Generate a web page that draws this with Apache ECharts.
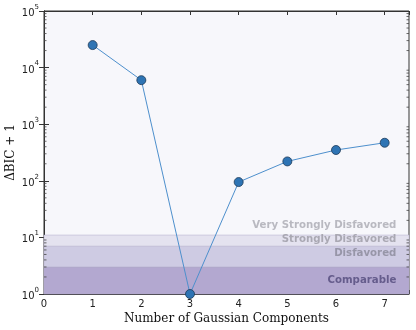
<!DOCTYPE html>
<html>
<head>
<meta charset="utf-8">
<script src="https://cdn.jsdelivr.net/npm/echarts@6/dist/echarts.min.js"></script>
<style>
  html, body { margin: 0; padding: 0; background: #fff; }
  #chart { width: 416px; height: 330px; }
</style>
</head>
<body>
<div id="chart"></div>
<script>
// data
const components = [1, 2, 3, 4, 5, 6, 7];
const deltaBic = [25000, 6000, 1, 95, 220, 350, 470];

// evidence bands (ΔBIC + 1)
const bandEdges = [1, 3, 7, 11];
const bandColors = ['#b3a8d0', '#cecbe3', '#e4e2ef'];
const bandLabels = ['Comparable', 'Disfavored', 'Strongly Disfavored', 'Very Strongly Disfavored'];
const bandLabelY = [1.75, 5.2, 9.3, 16.5];
const bandLabelColors = ['#51497a', '#8a8898', '#9b9aa4', '#a9a9b1'];

const xTicks = [0, 1, 2, 3, 4, 5, 6, 7];
const yExponents = [0, 1, 2, 3, 4, 5];

let minorTicks = [];
yExponents.slice(0, -1).forEach(e => {
    for (let m = 2; m <= 9; m++) minorTicks.push(m * Math.pow(10, e));
});

let chart = echarts.init(document.getElementById('chart'));

let bandAreas = [];
for (let i = 0; i < bandColors.length; i++) {
    bandAreas.push([
        { yAxis: bandEdges[i], itemStyle: { color: bandColors[i], borderColor: '#b0abc8', borderWidth: 0.5 } },
        { yAxis: bandEdges[i + 1] }
    ]);
}

let supLabel = v => {
    let e = Math.round(Math.log10(v));
    return '{b|10}{s|' + e + '}';
};

let option = {
    animation: false,
    grid: {
        left: 44, right: 7, top: 11, bottom: 36,
        outerBoundsMode: 'none', containLabel: false,
        show: true, backgroundColor: '#f7f7fb', borderColor: '#333', borderWidth: 1
    },
    xAxis: [
        {
            type: 'value', min: 0, max: 7.5, interval: 1,
            name: 'Number of Gaussian Components', nameLocation: 'middle', nameGap: 19,
            nameMoveOverlap: false,
            nameTextStyle: { fontFamily: 'DejaVu Serif', fontSize: 12, color: '#111' },
            axisLine: { lineStyle: { color: '#333' } },
            axisTick: { inside: true, length: 4, lineStyle: { color: '#333' } },
            axisLabel: {
                fontFamily: 'DejaVu Sans', fontSize: 10, color: '#222', margin: 5,
                formatter: v => (xTicks.indexOf(v) >= 0 ? String(v) : '')
            },
            splitLine: { show: false }
        },
        {
            type: 'value', min: 0, max: 7.5, interval: 1, position: 'top',
            axisLine: { lineStyle: { color: '#333' } },
            axisTick: { inside: true, length: 4, lineStyle: { color: '#333' } },
            axisLabel: { show: false },
            splitLine: { show: false }
        }
    ],
    yAxis: [
        {
            type: 'log', logBase: 10, min: 1, max: 100000,
            name: 'ΔBIC + 1', nameLocation: 'middle', nameGap: 27,
            nameMoveOverlap: false,
            nameTextStyle: { fontFamily: 'DejaVu Serif', fontSize: 12, color: '#111' },
            axisLine: { show: true, lineStyle: { color: '#333' } },
            axisTick: { inside: true, length: 5, lineStyle: { color: '#333' } },
            axisLabel: {
                margin: 5, formatter: supLabel,
                rich: {
                    b: { fontFamily: 'DejaVu Sans', fontSize: 10, color: '#222', verticalAlign: 'bottom' },
                    s: { fontFamily: 'DejaVu Sans', fontSize: 7, color: '#222', verticalAlign: 'top', padding: [0, 0, 8, 0] }
                }
            },
            splitLine: { show: false }
        },
        {
            type: 'log', logBase: 10, min: 1, max: 100000, position: 'right',
            axisLine: { show: true, lineStyle: { color: '#333' } },
            axisTick: { inside: true, length: 5, lineStyle: { color: '#333' } },
            axisLabel: { show: false },
            splitLine: { show: false }
        }
    ],
    series: [
        {
            type: 'line',
            data: [],
            markArea: { silent: true, data: bandAreas },
            z: 1
        },
        {
            type: 'custom',
            silent: true,
            z: 3,
            data: minorTicks.map(v => [0, v]),
            renderItem: (params, api) => {
                let v = api.value(1);
                let l = api.coord([0, v]);
                let r = api.coord([7.5, v]);
                let st = { stroke: '#444', lineWidth: 0.8 };
                return {
                    type: 'group',
                    children: [
                        { type: 'line', shape: { x1: l[0], y1: l[1], x2: l[0] + 2.5, y2: l[1] }, style: st },
                        { type: 'line', shape: { x1: r[0], y1: r[1], x2: r[0] - 2.5, y2: r[1] }, style: st }
                    ]
                };
            }
        },
        {
            type: 'scatter',
            silent: true,
            symbolSize: 0,
            z: 4,
            data: bandLabels.map((t, i) => ({
                value: [7.24, bandLabelY[i]],
                label: {
                    show: true, position: 'left', distance: 0, formatter: t,
                    fontFamily: 'DejaVu Sans', fontWeight: 'bold', fontSize: 10.2,
                    color: bandLabelColors[i]
                }
            }))
        },
        {
            type: 'line',
            data: components.map((c, i) => [c, deltaBic[i]]),
            symbol: 'circle',
            symbolSize: 9,
            lineStyle: { color: '#4d8fcc', width: 1 },
            itemStyle: { color: '#2e74b4', borderColor: '#1d3a58', borderWidth: 0.8 },
            z: 5
        }
    ]
};

chart.setOption(option);
</script>
</body>
</html>
